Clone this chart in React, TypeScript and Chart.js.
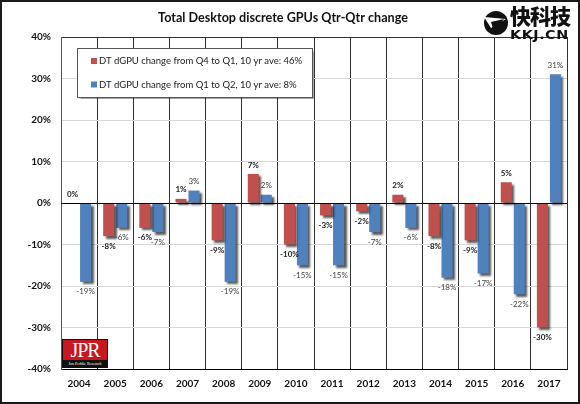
import React, { useEffect, useRef } from "react";
import { Chart, registerables } from "chart.js";

Chart.register(...registerables);

const years = ["2004", "2005", "2006", "2007", "2008", "2009", "2010", "2011", "2012", "2013", "2014", "2015", "2016", "2017"];
const q4ToQ1 = [0, -8, -6, 1, -9, 7, -10, -3, -2, 2, -8, -9, 5, -30];
const q1ToQ2 = [-19, -6, -7, 3, -19, 2, -15, -15, -7, -6, -18, -17, -22, 31];
const seriesLabels = [
  "DT dGPU change from Q4 to Q1, 10 yr ave: 46%",
  "DT dGPU change from Q1 to Q2, 10 yr ave: 8%",
];
const titleText = "Total Desktop discrete GPUs Qtr-Qtr change";
const yMin = -40;
const yMax = 40;
const yStep = 10;

const RED = "#C0504D";
const BLUE = "#4F81BD";

const shadowPlugin = {
  id: "barShadow",
  beforeDatasetsDraw(chart: any) {
    const ctx = chart.ctx;
    ctx.save();
    ctx.shadowColor = "rgba(0,0,0,0.65)";
    ctx.shadowOffsetX = 2.5;
    ctx.shadowOffsetY = 2.5;
    ctx.shadowBlur = 2;
  },
  afterDatasetsDraw(chart: any) {
    const ctx = chart.ctx;
    ctx.restore();
    const { left, right } = chart.chartArea;
    const y0 = chart.scales.y.getPixelForValue(0);
    ctx.save();
    ctx.strokeStyle = "#000";
    ctx.lineWidth = 1;
    ctx.beginPath();
    ctx.moveTo(left, Math.round(y0) + 0.5);
    ctx.lineTo(right, Math.round(y0) + 0.5);
    ctx.stroke();
    chart.data.datasets.forEach((ds: any, di: number) => {
      const meta = chart.getDatasetMeta(di);
      ctx.font = di === 0 ? "bold 8px Lato" : "8px Lato";
      ctx.fillStyle = di === 0 ? "#222" : "#444";
      ctx.textAlign = "center";
      ctx.textBaseline = "middle";
      meta.data.forEach((el: any, i: number) => {
        const v = ds.data[i];
        const txt = Math.round(v) + "%";
        const y = v >= 0 ? el.y - 9 : el.y + 10;
        ctx.fillText(txt, el.x, y);
      });
    });
    ctx.restore();
  },
  afterDraw(chart: any) {
    const ctx = chart.ctx;
    const { left, top } = chart.chartArea;
    ctx.save();
    ctx.font = "bold 12.6px Lato";
    ctx.fillStyle = "#111";
    ctx.textAlign = "center";
    ctx.textBaseline = "middle";
    ctx.fillText(titleText, 283, 18);
    const bx = left + 16;
    const by = top + 11;
    const bw = 235;
    const bh = 49;
    ctx.shadowColor = "rgba(0,0,0,0.35)";
    ctx.shadowOffsetX = 1.5;
    ctx.shadowOffsetY = 1.5;
    ctx.shadowBlur = 1;
    ctx.fillStyle = "#fff";
    ctx.fillRect(bx, by, bw, bh);
    ctx.shadowColor = "transparent";
    ctx.strokeStyle = "#555";
    ctx.lineWidth = 1;
    ctx.strokeRect(Math.round(bx) + 0.5, Math.round(by) + 0.5, bw, bh);
    ctx.font = "9.5px Lato";
    ctx.textAlign = "left";
    ctx.textBaseline = "middle";
    chart.data.datasets.forEach((ds: any, di: number) => {
      const cy = by + 13 + di * 23.5;
      ctx.fillStyle = ds.backgroundColor;
      ctx.fillRect(bx + 14, cy - 3, 6, 6);
      ctx.fillStyle = "#1a1a1a";
      ctx.fillText(ds.label, bx + 22, cy);
    });
    ctx.restore();
  },
};

export default function App() {
  const ref = useRef<HTMLCanvasElement | null>(null);
  useEffect(() => {
    if (!ref.current) return;
    const chart = new Chart(ref.current, {
      type: "bar",
      data: {
        labels: years,
        datasets: [
          { label: seriesLabels[0], data: q4ToQ1, backgroundColor: RED, borderWidth: 0 },
          { label: seriesLabels[1], data: q1ToQ2, backgroundColor: BLUE, borderWidth: 0 },
        ],
      },
      options: {
        responsive: false,
        animation: false,
        devicePixelRatio: 1,
        layout: { padding: { top: 37, right: 13, left: 0, bottom: 0 } },
        datasets: { bar: { categoryPercentage: 0.72, barPercentage: 0.85 } },
        plugins: { legend: { display: false }, title: { display: false }, tooltip: { enabled: false } },
        scales: {
          x: {
            offset: true,
            grid: { offset: true, color: "#333", lineWidth: 1, drawTicks: false },
            border: { color: "#000", width: 1 },
            ticks: { font: { family: "Lato", size: 10, weight: "bold" }, color: "#111", padding: 9 },
            afterFit(scale: any) {
              scale.height = 35;
            },
          },
          y: {
            min: yMin,
            max: yMax,
            grid: {
              drawTicks: false,
              color: (c: any) => (c.tick && c.tick.value === yMax ? "#333" : c.tick && c.tick.value === 0 ? "#000" : "#d9d9d9"),
              lineWidth: 1,
            },
            border: { color: "#555", width: 1 },
            ticks: {
              stepSize: yStep,
              padding: 10,
              font: { family: "Lato", size: 10, weight: "bold" },
              color: "#111",
              callback: (v: any) => v + "%",
            },
            afterFit(scale: any) {
              scale.width = 61;
            },
          },
        },
      },
      plugins: [shadowPlugin],
    });
    return () => chart.destroy();
  }, []);

  return (
    <div style={{ position: "fixed", left: 0, top: 0, width: 580, height: 404, background: "#fff", overflow: "hidden" }}>
      <canvas ref={ref} width={580} height={404} style={{ position: "absolute", left: 0, top: 0, width: 580, height: 404 }} />
      <div style={{ position: "absolute", left: 62, top: 339, width: 46, height: 29, background: "#111" }}>
        <div
          style={{
            position: "absolute",
            left: 1,
            top: 1,
            width: 44,
            height: 20,
            background: "#C8171E",
            color: "#fff",
            fontFamily: "'Liberation Serif', serif",
            fontSize: 20,
            lineHeight: "20px",
            textAlign: "center",
            letterSpacing: -1,
          }}
        >
          JPR
        </div>
        <div
          style={{
            position: "absolute",
            left: 0,
            top: 22,
            width: 46,
            height: 6,
            color: "#fff",
            fontFamily: "'Liberation Serif', serif",
            fontSize: 4,
            lineHeight: "6px",
            textAlign: "center",
            whiteSpace: "nowrap",
          }}
        >
          Jon Peddie Research
        </div>
      </div>
      <svg style={{ position: "absolute", left: 482, top: 8, width: 28, height: 30 }} viewBox="0 0 28 30">
        <circle cx="14" cy="15" r="12" fill="#111" />
        <polygon points="2,9 24,11 9,20" fill="#fff" />
        <polygon points="9,14 22,11 12,24" fill="#111" />
      </svg>
      <div
        style={{
          position: "absolute",
          left: 510,
          top: 3,
          fontFamily: "'Noto Sans CJK SC', sans-serif",
          fontWeight: 900,
          fontSize: 21,
          lineHeight: "25px",
          color: "#111",
          letterSpacing: -1,
        }}
      >
        快科技
      </div>
      <div
        style={{
          position: "absolute",
          left: 510,
          top: 28,
          fontFamily: "'DejaVu Sans', sans-serif",
          fontWeight: 900,
          fontSize: 13,
          lineHeight: "14px",
          color: "#111",
          letterSpacing: 0.5,
          transform: "scaleX(1.1)",
          transformOrigin: "left top",
        }}
      >
        KKJ.CN
      </div>
      <div style={{ position: "absolute", left: 0, top: 0, width: 580, height: 404, boxSizing: "border-box", border: "2px solid #1a1a1a", pointerEvents: "none" }} />
    </div>
  );
}
